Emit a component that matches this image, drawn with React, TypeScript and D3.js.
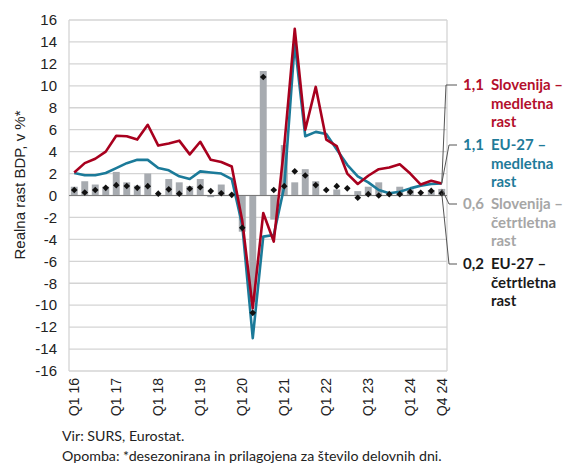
import React from "react";
import * as d3 from "d3";

// Quarters Q1 2016 – Q4 2024
const years = ["16", "17", "18", "19", "20", "21", "22", "23", "24"];
const quarters = years.flatMap((y) => ["Q1", "Q2", "Q3", "Q4"].map((q) => `${q} ${y}`));

// Slovenija – medletna rast (red line)
const sloYoy = [
  2.1, 2.95, 3.35, 4.0, 5.45, 5.4, 5.1, 6.45, 4.55, 4.75, 5.0, 3.75,
  4.9, 3.25, 3.05, 2.65, -2.3, -10.3, -1.6, -4.2, 4.5, 15.2, 6.0, 9.9,
  5.1, 4.5, 2.0, 1.05, 1.8, 2.4, 2.55, 2.85, 2.0, 1.0, 1.35, 1.1,
];

// EU-27 – medletna rast (teal line)
const euYoy = [
  2.05, 1.85, 1.85, 2.05, 2.5, 2.95, 3.25, 3.25, 2.5, 2.3, 1.75, 1.5,
  2.2, 2.1, 2.0, 1.5, -2.7, -13.0, -3.75, -3.6, 0.8, 13.9, 5.4, 5.8,
  5.6, 4.2, 2.8, 1.75, 1.2, 0.5, 0.2, 0.35, 0.65, 0.9, 1.05, 1.1,
];

// Slovenija – četrtletna rast (grey bars)
const sloQoq = [
  0.8, 1.3, 1.0, 0.8, 2.15, 1.2, 0.9, 2.0, 0.05, 1.5, 1.2, 0.85,
  1.5, -0.15, 1.0, 0.05, -3.3, -9.7, 11.35, -2.2, 4.6, 1.2, 2.4, 1.3,
  0.05, 0.55, 0.05, 0.4, 0.8, 1.2, 0.05, 0.8, 0.55, 0.05, 0.5, 0.6,
];

// EU-27 – četrtletna rast (black diamonds)
const euQoq = [
  0.5, 0.27, 0.5, 0.7, 0.94, 0.87, 0.7, 0.85, 0.17, 0.56, 0.17, 0.62,
  0.75, 0.4, 0.2, 0.06, -2.95, -10.7, 10.8, 0.5, 0.85, 2.2, 1.82, 0.95,
  0.5, 0.85, 0.65, -0.2, 0.12, 0.0, 0.12, 0.12, 0.33, 0.25, 0.42, 0.2,
];

const xTickLabels = ["Q1 16", "Q1 17", "Q1 18", "Q1 19", "Q1 20", "Q1 21", "Q1 22", "Q1 23", "Q1 24", "Q4 24"];
const yTicks = d3.range(-16, 17, 2);

const labelValues = ["1,1", "1,1", "0,6", "0,2"];
const labelNames = [
  ["Slovenija –", "medletna", "rast"],
  ["EU-27 –", "medletna", "rast"],
  ["Slovenija –", "četrtletna", "rast"],
  ["EU-27 –", "četrtletna", "rast"],
];

const RED = "#a8001e";
const TEAL = "#1b7a99";
const BAR = "#a7abb0";
const labelColors = ["#b3102c", "#1f7b99", "#a6a6a6", "#1a1a1a"];

const W = 571;
const H = 465;
const plot = { left: 69, right: 447, top: 20, bottom: 371 };
const sansArial = "'Liberation Sans', Arial, sans-serif";
const sansText = "Lato, 'Open Sans', sans-serif";

export default function App() {
  const x = d3.scaleBand().domain(quarters).range([plot.left, plot.right]).padding(0);
  const y = d3.scaleLinear().domain([-16, 16]).range([plot.bottom, plot.top]);
  const bw = x.bandwidth();
  const cx = (i: number) => (x(quarters[i]) as number) + bw / 2;
  const barW = bw * 0.66;

  const line = d3
    .line<number>()
    .x((_, i) => cx(i))
    .y((d) => y(d));

  const last = quarters.length - 1;
  const lastPoints = [y(sloYoy[last]), y(euYoy[last]), y(sloQoq[last]), y(euQoq[last])];
  const labelY = [85, 145, 204, 264];
  const elbowX = [446, 449, 449, 449];

  // rotated square marker
  const diamond = d3.symbol(d3.symbolSquare, 22)() as string;

  return (
    <svg
      width={W}
      height={H}
      style={{ position: "absolute", left: 0, top: 0, background: "#fff" }}
    >
      {/* grid */}
      {yTicks.map((t) => (
        <line key={t} x1={plot.left} x2={plot.right} y1={y(t)} y2={y(t)} stroke="#d4d4d4" strokeWidth={1.3} />
      ))}
      <line x1={plot.left} x2={plot.left} y1={plot.top} y2={plot.bottom} stroke="#d4d4d4" strokeWidth={1.3} />
      <line x1={plot.right} x2={plot.right} y1={plot.top} y2={plot.bottom} stroke="#d4d4d4" strokeWidth={1.3} />

      {/* y ticks */}
      {yTicks.map((t) => (
        <text key={t} x={57} y={y(t)} dy="0.35em" textAnchor="end" fontFamily={sansArial} fontSize={15} fill="#222">
          {t}
        </text>
      ))}
      <text
        transform="translate(20,185) rotate(-90)"
        dy="0.35em"
        textAnchor="middle"
        fontFamily={sansArial}
        fontSize={15}
        fill="#222"
      >
        Realna rast BDP, v %*
      </text>

      {/* bars */}
      {sloQoq.map((v, i) => (
        <rect
          key={i}
          x={cx(i) - barW / 2}
          y={Math.min(y(v), y(0))}
          width={barW}
          height={Math.abs(y(v) - y(0))}
          fill={BAR}
        />
      ))}

      <line x1={plot.left} x2={plot.right} y1={y(0)} y2={y(0)} stroke="#7a7a7a" strokeWidth={1} />

      {/* lines */}
      <path d={line(euYoy) as string} fill="none" stroke={TEAL} strokeWidth={2.6} strokeLinejoin="round" />
      <path d={line(sloYoy) as string} fill="none" stroke={RED} strokeWidth={2.6} strokeLinejoin="round" />

      {/* diamonds */}
      {euQoq.map((v, i) => (
        <path key={i} d={diamond} transform={`translate(${cx(i)},${y(v)}) rotate(45)`} fill="#111" />
      ))}

      {/* x ticks */}
      {xTickLabels.map((lab) => (
        <text
          key={lab}
          transform={`translate(${cx(quarters.indexOf(lab))},378) rotate(-90)`}
          dy="0.35em"
          textAnchor="end"
          fontFamily={sansArial}
          fontSize={14}
          fill="#222"
        >
          {lab}
        </text>
      ))}

      {/* leader lines and end labels */}
      {labelValues.map((val, k) => (
        <g key={k}>
          <polyline
            points={`${cx(last)},${lastPoints[k]} ${elbowX[k]},${labelY[k]} 457,${labelY[k]}`}
            fill="none"
            stroke="#555"
            strokeWidth={1}
          />
          <text x={463} y={labelY[k]} dy="0.35em" fontFamily={sansText} fontWeight={700} fontSize={15} fill={labelColors[k]}>
            {val}
          </text>
          {labelNames[k].map((ln, j) => (
            <text
              key={j}
              x={491}
              y={labelY[k] + j * 18.5}
              dy="0.35em"
              fontFamily={sansText}
              fontWeight={700}
              fontSize={15}
              fill={labelColors[k]}
            >
              {ln}
            </text>
          ))}
        </g>
      ))}

      {/* footer */}
      <text x={62} y={441} fontFamily={sansText} fontSize={14.2} fill="#222">
        Vir: SURS, Eurostat.
      </text>
      <text x={62} y={461} fontFamily={sansText} fontSize={14.2} fill="#222">
        Opomba: *desezonirana in prilagojena za število delovnih dni.
      </text>
    </svg>
  );
}
